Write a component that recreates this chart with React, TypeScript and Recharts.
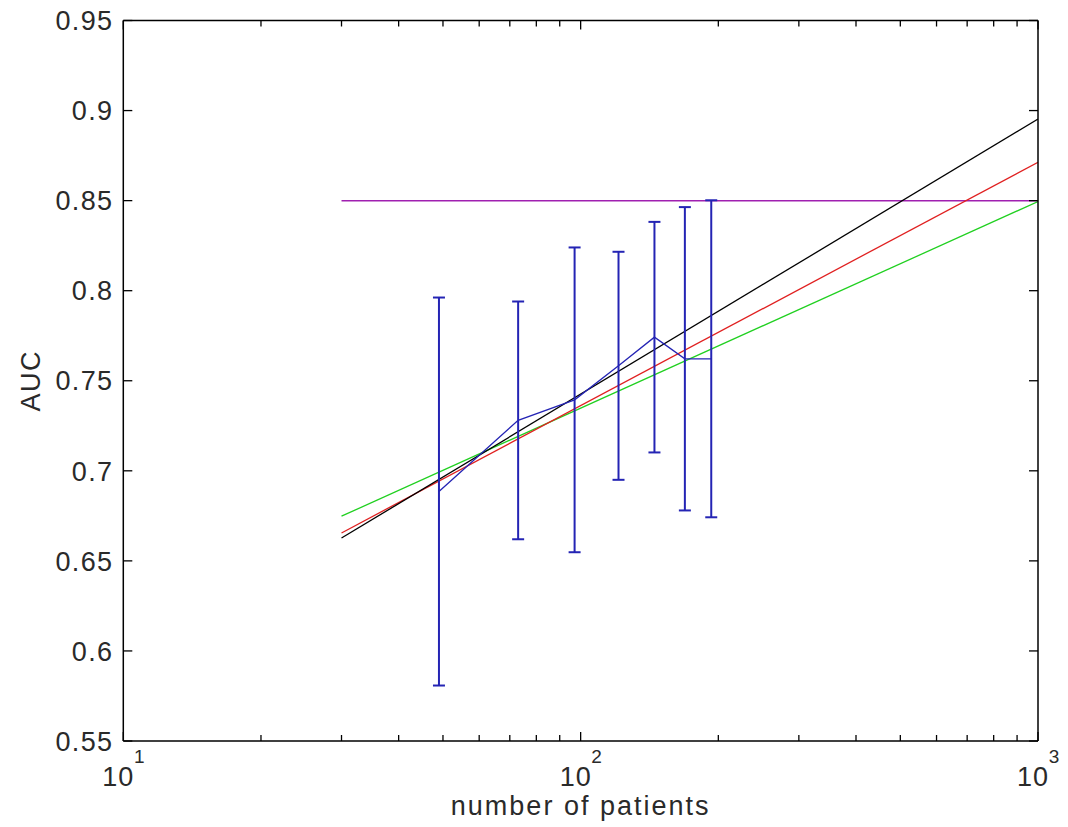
import React from 'react';
import { ComposedChart, Line, XAxis, YAxis, ErrorBar } from 'recharts';

// Observed AUC (mean ± error) vs number of patients
const patientCounts = [49, 73, 97, 121, 145, 169, 193];
const meanAUC = [0.6885, 0.728, 0.7394, 0.7583, 0.7742, 0.7622, 0.7622];
const errAUC = [0.1077, 0.066, 0.0846, 0.0633, 0.064, 0.0842, 0.088];

// Fitted learning curves (straight in log-x), evaluated at the ends
const fitN = [30, 1000];
const fitBlack = [0.6627, 0.8953];
const fitRed = [0.6655, 0.8713];
const fitGreen = [0.6748, 0.8495];
const targetAUC = [0.85, 0.85];

const xTicks = [10, 20, 30, 40, 50, 60, 70, 80, 90, 100, 200, 300, 400, 500, 600, 700, 800, 900, 1000];
const yTicks = [0.55, 0.6, 0.65, 0.7, 0.75, 0.8, 0.85, 0.9, 0.95];

const meanData = patientCounts.map((n, i) => ({ n, mean: meanAUC[i], err: errAUC[i] }));
const mk = (vals: number[]) => fitN.map((n, i) => ({ n, v: vals[i] }));
const blackData = mk(fitBlack);
const redData = mk(fitRed);
const greenData = mk(fitGreen);
const targetData = mk(targetAUC);

const FONT = "'Liberation Sans', Arial, sans-serif";
const FS = 27;
const TXT = '#2a2a2a';

const isMajor = (v: number) => Math.abs(Math.log10(v) - Math.round(Math.log10(v))) < 1e-9;

const BottomTick = (props: any) => {
  const { x, y, payload } = props;
  const v = payload.value;
  const major = isMajor(v);
  return (
    <g>
      <line x1={x} x2={x} y1={y} y2={y - (major ? 9 : 6)} stroke="#000" strokeWidth={1.3} />
      {major && (
        <text x={x - 5} y={y + 45} textAnchor="middle" fontFamily={FONT} fontSize={FS} letterSpacing={1} fill={TXT}>
          10
        </text>
      )}
      {major && (
        <text x={x + 16} y={y + 22} textAnchor="middle" fontFamily={FONT} fontSize={19} fill={TXT}>
          {Math.round(Math.log10(v))}
        </text>
      )}
    </g>
  );
};

const TopTick = (props: any) => {
  const { x, y, payload } = props;
  const major = isMajor(payload.value);
  return <line x1={x} x2={x} y1={y} y2={y + (major ? 9 : 6)} stroke="#000" strokeWidth={1.3} />;
};

const LeftTick = (props: any) => {
  const { x, y, payload } = props;
  const label = String(Number(payload.value.toFixed(2)));
  return (
    <g>
      <line x1={x} x2={x + 9} y1={y} y2={y} stroke="#000" strokeWidth={1.3} />
      <text x={x - 10} y={y} dy="0.36em" textAnchor="end" fontFamily={FONT} fontSize={FS} letterSpacing={1.3} fill={TXT}>
        {label}
      </text>
    </g>
  );
};

const RightTick = (props: any) => {
  const { x, y } = props;
  return <line x1={x} x2={x - 9} y1={y} y2={y} stroke="#000" strokeWidth={1.3} />;
};

const XLabel = (props: any) => {
  const vb = props.viewBox || {};
  const cx = vb.x + vb.width / 2;
  return (
    <text x={cx} y={vb.y + 74} textAnchor="middle" fontFamily={FONT} fontSize={FS} letterSpacing={2} fill={TXT}>
      number of patients
    </text>
  );
};

const YLabel = (props: any) => {
  const vb = props.viewBox || {};
  const cy = vb.y + vb.height / 2;
  const cx = 31;
  return (
    <text
      x={cx}
      y={cy}
      transform={`rotate(-90, ${cx}, ${cy})`}
      textAnchor="middle"
      dominantBaseline="central"
      fontFamily={FONT}
      fontSize={FS}
      letterSpacing={1.5}
      fill={TXT}
    >
      AUC
    </text>
  );
};

export default function App() {
  return (
    <div style={{ position: 'absolute', left: 0, top: 0, width: 1068, height: 827, background: '#fff' }}>
      <ComposedChart width={1068} height={827} margin={{ top: 19.5, right: 29, bottom: 0, left: 0 }}>
        <XAxis
          dataKey="n"
          type="number"
          scale="log"
          domain={[10, 1000]}
          allowDataOverflow
          ticks={xTicks}
          interval={0}
          height={86}
          tickSize={0}
          tickMargin={0}
          tickLine={false}
          axisLine={{ stroke: '#000', strokeWidth: 1.5 }}
          tick={<BottomTick />}
          label={<XLabel />}
        />
        <XAxis
          xAxisId="top"
          orientation="top"
          dataKey="n"
          type="number"
          scale="log"
          domain={[10, 1000]}
          allowDataOverflow
          ticks={xTicks}
          interval={0}
          height={1}
          tickSize={0}
          tickMargin={0}
          tickLine={false}
          axisLine={{ stroke: '#000', strokeWidth: 1.5 }}
          tick={<TopTick />}
        />
        <YAxis
          type="number"
          domain={[0.55, 0.95]}
          allowDataOverflow
          ticks={yTicks}
          interval={0}
          width={123.3}
          tickSize={0}
          tickMargin={0}
          tickLine={false}
          axisLine={{ stroke: '#000', strokeWidth: 1.5 }}
          tick={<LeftTick />}
          label={<YLabel />}
        />
        <YAxis
          yAxisId="right"
          orientation="right"
          type="number"
          domain={[0.55, 0.95]}
          allowDataOverflow
          ticks={yTicks}
          interval={0}
          width={1}
          tickSize={0}
          tickMargin={0}
          tickLine={false}
          axisLine={{ stroke: '#000', strokeWidth: 1.5 }}
          tick={<RightTick />}
        />
        <Line
          data={targetData}
          dataKey="v"
          xAxisId="top"
          yAxisId="right"
          stroke="#a020b0"
          strokeWidth={1.5}
          dot={false}
          isAnimationActive={false}
        />
        <Line data={greenData} dataKey="v" stroke="#20d020" strokeWidth={1.3} dot={false} isAnimationActive={false} />
        <Line data={redData} dataKey="v" stroke="#e02020" strokeWidth={1.3} dot={false} isAnimationActive={false} />
        <Line data={blackData} dataKey="v" stroke="#000000" strokeWidth={1.3} dot={false} isAnimationActive={false} />
        <Line data={meanData} dataKey="mean" stroke="#2424b4" strokeWidth={1.3} dot={false} isAnimationActive={false}>
          <ErrorBar dataKey="err" direction="y" width={6} stroke="#2424b4" strokeWidth={2} isAnimationActive={false} />
        </Line>
      </ComposedChart>
    </div>
  );
}
